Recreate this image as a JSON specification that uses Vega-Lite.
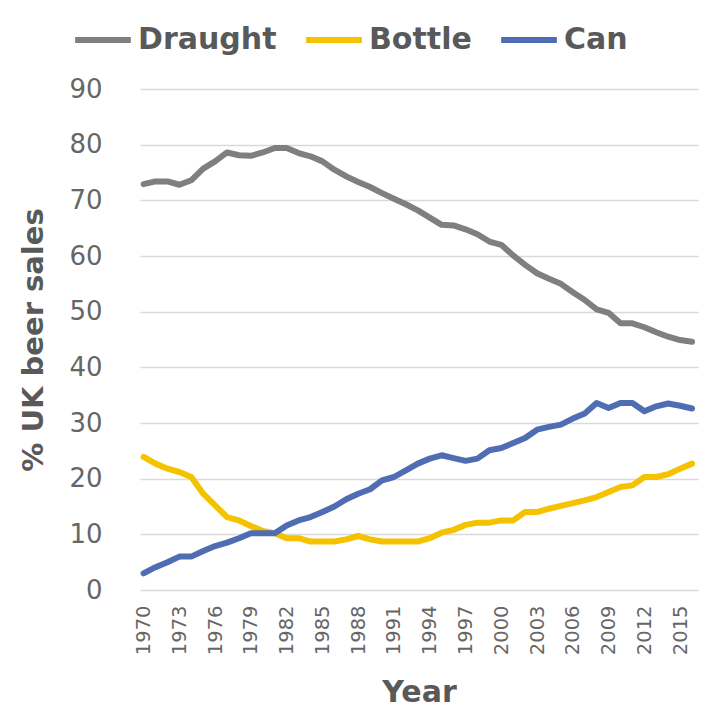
{
  "$schema": "https://vega.github.io/schema/vega-lite/v6.json",
  "width": 558,
  "height": 501,
  "autosize": {"type": "none"},
  "padding": {"left": 140, "top": 89, "right": 7, "bottom": 125},
  "background": "white",
  "config": {
    "font": "DejaVu Sans",
    "view": {"stroke": null},
    "axis": {"gridColor": "#d9d9d9", "gridWidth": 1.5, "domain": false, "ticks": false, "labelColor": "#666666", "titleColor": "#595959"}
  },
  "data": {
    "values": [
      {"year": 1970, "Draught": 72.9, "Bottle": 23.9, "Can": 3.0},
      {"year": 1971, "Draught": 73.4, "Bottle": 22.7, "Can": 4.1},
      {"year": 1972, "Draught": 73.4, "Bottle": 21.8, "Can": 5.0},
      {"year": 1973, "Draught": 72.8, "Bottle": 21.2, "Can": 6.0},
      {"year": 1974, "Draught": 73.6, "Bottle": 20.3, "Can": 6.0},
      {"year": 1975, "Draught": 75.7, "Bottle": 17.3, "Can": 7.0},
      {"year": 1976, "Draught": 77.0, "Bottle": 15.2, "Can": 7.9},
      {"year": 1977, "Draught": 78.6, "Bottle": 13.1, "Can": 8.5},
      {"year": 1978, "Draught": 78.1, "Bottle": 12.5, "Can": 9.3},
      {"year": 1979, "Draught": 78.0, "Bottle": 11.5, "Can": 10.2},
      {"year": 1980, "Draught": 78.6, "Bottle": 10.6, "Can": 10.2},
      {"year": 1981, "Draught": 79.4, "Bottle": 10.2, "Can": 10.2},
      {"year": 1982, "Draught": 79.4, "Bottle": 9.3, "Can": 11.6},
      {"year": 1983, "Draught": 78.5, "Bottle": 9.3, "Can": 12.5},
      {"year": 1984, "Draught": 77.9, "Bottle": 8.7, "Can": 13.1},
      {"year": 1985, "Draught": 77.0, "Bottle": 8.7, "Can": 14.0},
      {"year": 1986, "Draught": 75.5, "Bottle": 8.7, "Can": 15.0},
      {"year": 1987, "Draught": 74.3, "Bottle": 9.1, "Can": 16.3},
      {"year": 1988, "Draught": 73.3, "Bottle": 9.7, "Can": 17.3},
      {"year": 1989, "Draught": 72.4, "Bottle": 9.1, "Can": 18.1},
      {"year": 1990, "Draught": 71.3, "Bottle": 8.7, "Can": 19.7},
      {"year": 1991, "Draught": 70.3, "Bottle": 8.7, "Can": 20.3},
      {"year": 1992, "Draught": 69.3, "Bottle": 8.7, "Can": 21.5},
      {"year": 1993, "Draught": 68.2, "Bottle": 8.7, "Can": 22.7},
      {"year": 1994, "Draught": 66.9, "Bottle": 9.3, "Can": 23.6},
      {"year": 1995, "Draught": 65.6, "Bottle": 10.3, "Can": 24.2},
      {"year": 1996, "Draught": 65.5, "Bottle": 10.8, "Can": 23.7},
      {"year": 1997, "Draught": 64.8, "Bottle": 11.7, "Can": 23.2},
      {"year": 1998, "Draught": 63.9, "Bottle": 12.1, "Can": 23.6},
      {"year": 1999, "Draught": 62.6, "Bottle": 12.1, "Can": 25.1},
      {"year": 2000, "Draught": 62.0, "Bottle": 12.5, "Can": 25.5},
      {"year": 2001, "Draught": 60.1, "Bottle": 12.5, "Can": 26.4},
      {"year": 2002, "Draught": 58.4, "Bottle": 14.0, "Can": 27.3},
      {"year": 2003, "Draught": 56.9, "Bottle": 14.0, "Can": 28.8},
      {"year": 2004, "Draught": 55.9, "Bottle": 14.6, "Can": 29.3},
      {"year": 2005, "Draught": 55.0, "Bottle": 15.1, "Can": 29.7},
      {"year": 2006, "Draught": 53.5, "Bottle": 15.6, "Can": 30.8},
      {"year": 2007, "Draught": 52.1, "Bottle": 16.1, "Can": 31.7},
      {"year": 2008, "Draught": 50.4, "Bottle": 16.7, "Can": 33.6},
      {"year": 2009, "Draught": 49.8, "Bottle": 17.6, "Can": 32.7},
      {"year": 2010, "Draught": 47.9, "Bottle": 18.5, "Can": 33.6},
      {"year": 2011, "Draught": 47.9, "Bottle": 18.8, "Can": 33.6},
      {"year": 2012, "Draught": 47.2, "Bottle": 20.3, "Can": 32.1},
      {"year": 2013, "Draught": 46.3, "Bottle": 20.3, "Can": 33.0},
      {"year": 2014, "Draught": 45.5, "Bottle": 20.8, "Can": 33.5},
      {"year": 2015, "Draught": 44.9, "Bottle": 21.8, "Can": 33.1},
      {"year": 2016, "Draught": 44.6, "Bottle": 22.7, "Can": 32.6}
    ]
  },
  "transform": [{"fold": ["Draught", "Bottle", "Can"], "as": ["type", "value"]}],
  "mark": {"type": "line", "strokeWidth": 6, "strokeCap": "round", "strokeJoin": "round"},
  "encoding": {
    "x": {
      "field": "year", "type": "quantitative",
      "scale": {"domain": [1969.7, 2016.5], "nice": false, "zero": false},
      "axis": {
        "values": [1970, 1973, 1976, 1979, 1982, 1985, 1988, 1991, 1994, 1997, 2000, 2003, 2006, 2009, 2012, 2015],
        "format": "d", "grid": false, "labelAngle": -90, "labelFontSize": 19.5, "labelPadding": 15,
        "title": "Year", "titleFontSize": 30, "titleFontWeight": "bold", "titlePadding": 23
      }
    },
    "y": {
      "field": "value", "type": "quantitative",
      "scale": {"domain": [0, 90], "nice": false},
      "axis": {
        "values": [0, 10, 20, 30, 40, 50, 60, 70, 80, 90],
        "labelFontSize": 26, "labelPadding": 38,
        "title": "% UK beer sales", "titleFontSize": 29, "titleFontWeight": "bold", "titlePadding": 20
      }
    },
    "color": {
      "field": "type", "type": "nominal",
      "scale": {"domain": ["Draught", "Bottle", "Can"], "range": ["#7f7f7f", "#f5c200", "#4e6db3"]},
      "legend": {
        "title": null, "orient": "none", "legendX": -68, "legendY": -80, "direction": "horizontal",
        "symbolType": "stroke", "symbolSize": 3100, "symbolStrokeWidth": 6,
        "labelFontSize": 30, "labelFontWeight": "bold", "labelColor": "#595959",
        "labelOffset": 4, "columnPadding": 17, "labelLimit": 300
      }
    }
  }
}
